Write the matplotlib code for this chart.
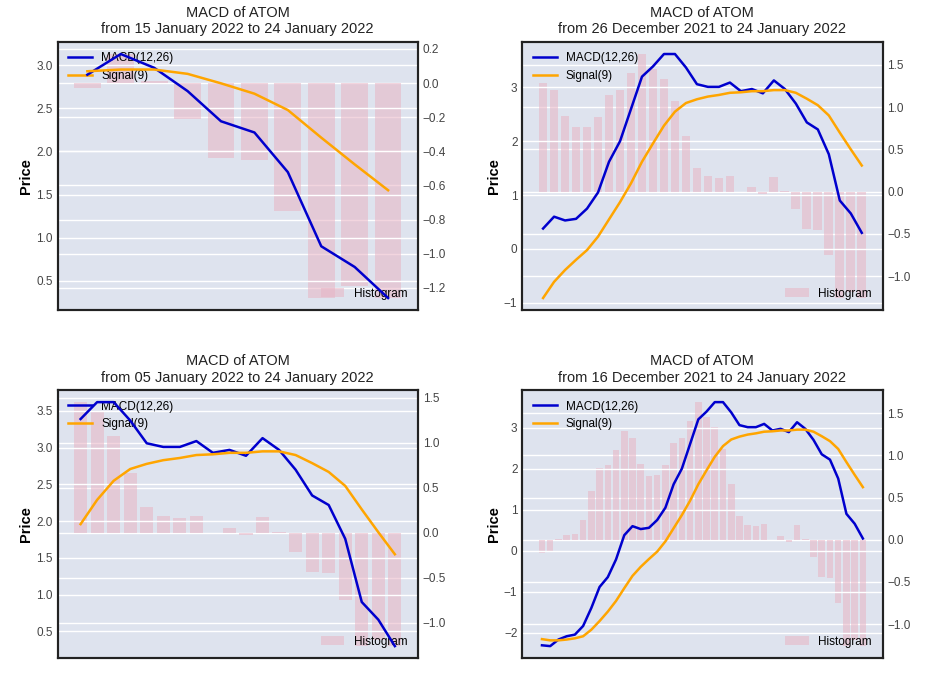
import numpy as np
import matplotlib
matplotlib.use('Agg')
import matplotlib.pyplot as plt

plt.rcParams['font.family'] = ['Liberation Sans', 'DejaVu Sans']

# daily MACD values of ATOM, 16 Dec 2021 .. 24 Jan 2022 (40 days)
macd = [-2.30, -2.32, -2.16, -2.08, -2.04, -1.83, -1.39, -0.88, -0.64, -0.21,
        0.38, 0.60, 0.53, 0.56, 0.75, 1.05, 1.62, 2.00, 2.60, 3.20,
        3.39, 3.62, 3.62, 3.37, 3.06, 3.01, 3.01, 3.09, 2.93, 2.97,
        2.89, 3.13, 2.97, 2.70, 2.35, 2.22, 1.76, 0.90, 0.66, 0.30]

signal = [-2.15, -2.18, -2.18, -2.16, -2.13, -2.08, -1.92, -1.71, -1.48, -1.22,
          -0.91, -0.61, -0.39, -0.20, -0.02, 0.23, 0.55, 0.87, 1.22, 1.62,
          1.96, 2.29, 2.55, 2.71, 2.78, 2.83, 2.86, 2.90, 2.91, 2.93,
          2.93, 2.95, 2.95, 2.90, 2.79, 2.67, 2.48, 2.16, 1.85, 1.55]

hist = [-0.16, -0.15, 0.01, 0.06, 0.07, 0.23, 0.58, 0.85, 0.88, 1.06,
        1.29, 1.20, 0.90, 0.76, 0.77, 0.88, 1.14, 1.20, 1.41, 1.63,
        1.45, 1.34, 1.07, 0.66, 0.28, 0.18, 0.16, 0.19, 0.0, 0.05,
        -0.03, 0.17, 0.01, -0.21, -0.44, -0.45, -0.75, -1.26, -1.19, -1.26]

# window length and start date of each panel (all end 24 January 2022)
windows = [10, 30, 20, 40]
starts = ['15 January 2022', '26 December 2021', '05 January 2022', '16 December 2021']

bg = '#dee3ee'

fig, axes = plt.subplots(2, 2, figsize=(9.29, 6.97), dpi=100)
plt.subplots_adjust(left=0.062, right=0.950, top=0.940, bottom=0.0555,
                    wspace=0.29, hspace=0.297)

for ax, n, start in zip(axes.flat, windows, starts):
    x = np.arange(n)

    # histogram on the right axis, drawn underneath the lines
    ax2 = ax.twinx()
    ax2.patch.set_visible(True)
    ax2.set_facecolor(bg)
    ax2.bar(x, hist[-n:], width=0.8, color='#e8b4c4', alpha=0.55, label='Histogram')
    ax2.legend(loc='lower right', frameon=False, fontsize=8.5)
    ax2.grid(True, axis='y', color='white', lw=1)
    ax2.set_axisbelow(True)

    ax.set_zorder(ax2.get_zorder() + 1)
    ax.patch.set_visible(False)
    ax.plot(x, macd[-n:], color='mediumblue', lw=1.8, label='MACD(12,26)')
    ax.plot(x, signal[-n:], color='orange', lw=1.8, label='Signal(9)')
    ax.set_ylabel('Price', fontsize=10.5, fontweight='bold', labelpad=2)
    ax.set_title('MACD of ATOM\nfrom ' + start + ' to 24 January 2022', fontsize=10.5, color='#222222')
    leg = ax.legend(loc='upper left', frameon=False, fontsize=8.5)
    leg.set_zorder(1)
    ax.grid(True, axis='y', color='white', lw=1)
    ax.set_axisbelow(True)
    ax.set_xticks([])

    for a in (ax, ax2):
        a.tick_params(length=0, labelsize=8.5, labelcolor='#444444')
        for s in a.spines.values():
            s.set_color('#222222')
            s.set_linewidth(1.5)

plt.savefig('out.png', dpi=100, facecolor='white')
